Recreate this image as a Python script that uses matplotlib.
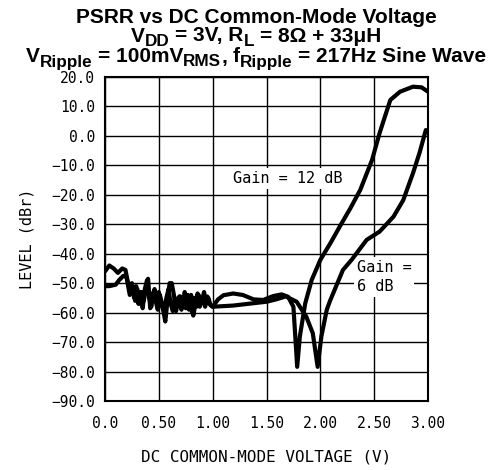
import matplotlib
matplotlib.use("Agg")
import matplotlib.pyplot as plt

# Gain = 12 dB curve
x12 = [0.00, 0.04, 0.08, 0.12, 0.16, 0.19, 0.22, 0.25, 0.27, 0.29, 0.31, 0.33, 0.35, 0.37,
       0.39, 0.41, 0.43, 0.45, 0.47, 0.49, 0.51, 0.53, 0.55, 0.57, 0.59, 0.61, 0.63, 0.65,
       0.67, 0.69, 0.71, 0.73, 0.75, 0.77, 0.79, 0.81, 0.83, 0.85, 0.87, 0.89, 0.91, 0.93,
       0.95, 0.97, 1.00, 1.05, 1.10, 1.19, 1.28, 1.38, 1.47, 1.56, 1.64, 1.70, 1.75, 1.785,
       1.81, 1.86, 1.92, 2.00, 2.10, 2.18, 2.28, 2.37, 2.48, 2.55, 2.61, 2.65, 2.74, 2.86,
       2.94, 3.00]
y12 = [-46.0, -44.0, -45.0, -46.5, -45.0, -45.5, -51.0, -50.0, -55.0, -51.0, -57.0, -53.0,
       -58.5, -52.0, -49.0, -55.0, -58.0, -53.0, -56.0, -59.0, -54.0, -57.0, -60.0, -55.0,
       -52.0, -57.0, -59.5, -55.0, -58.0, -54.5, -59.0, -55.0, -58.5, -54.0, -57.5, -60.0,
       -55.0, -58.0, -54.0, -57.0, -55.0, -58.0, -54.5, -57.0, -58.0, -55.5, -54.1, -53.5,
       -54.0, -55.5, -55.7, -54.4, -53.8, -54.6, -58.0, -78.4, -68.0, -56.8, -48.9, -42.1,
       -36.0, -30.8, -24.5, -18.4, -8.2, 0.9, 7.7, 12.2, 15.0, 16.7, 16.5, 15.0]

# Gain = 6 dB curve
x6 = [0.00, 0.04, 0.10, 0.13, 0.17, 0.20, 0.23, 0.26, 0.28, 0.30, 0.32, 0.34, 0.36, 0.38,
      0.40, 0.42, 0.44, 0.46, 0.48, 0.50, 0.52, 0.54, 0.56, 0.58, 0.60, 0.62, 0.64, 0.66,
      0.68, 0.70, 0.72, 0.74, 0.76, 0.78, 0.80, 0.82, 0.84, 0.86, 0.88, 0.90, 0.92, 0.94,
      0.96, 0.98, 1.00, 1.19, 1.38, 1.50, 1.59, 1.68, 1.78, 1.87, 1.93, 1.975, 2.01, 2.06,
      2.09, 2.21, 2.29, 2.43, 2.55, 2.68, 2.77, 2.86, 2.92, 2.98]
y6 = [-51.0, -51.0, -50.5, -49.0, -47.5, -48.0, -54.0, -51.0, -56.0, -52.0, -57.0, -53.0,
      -56.0, -52.0, -48.5, -58.5, -55.0, -52.0, -56.0, -53.0, -57.0, -59.0, -63.0, -56.0,
      -50.0, -50.0, -54.0, -59.5, -56.0, -54.5, -58.0, -53.0, -57.0, -59.0, -54.0, -61.0,
      -57.0, -53.5, -58.0, -56.0, -53.0, -57.0, -55.0, -57.5, -58.0, -57.6, -56.8, -56.3,
      -55.5, -54.5, -56.3, -61.4, -67.0, -78.4, -68.0, -59.0, -56.0, -45.5, -42.1, -35.3,
      -32.5, -27.4, -21.8, -12.7, -5.9, 2.0]

xticks = [0.0, 0.5, 1.0, 1.5, 2.0, 2.5, 3.0]
xticklabels = ["0.0", "0.50", "1.00", "1.50", "2.00", "2.50", "3.00"]
yticks = [20, 10, 0, -10, -20, -30, -40, -50, -60, -70, -80, -90]
yticklabels = ["%.1f" % v if v >= 0 else "\u2212%.1f" % abs(v) for v in yticks]

MONO = 'DejaVu Sans Mono'
W, H = 492, 470

fig = plt.figure(figsize=(W/100, H/100), dpi=100)
ax = fig.add_axes([105/W, 1-401/H, (428-105)/W, (401-77)/H])

ax.plot(x12, y12, color='black', lw=3.0, solid_joinstyle='round', solid_capstyle='round', zorder=3)
ax.plot(x6, y6, color='black', lw=3.0, solid_joinstyle='round', solid_capstyle='round', zorder=3)

ax.set_xlim(0, 3)
ax.set_ylim(-90, 20)
ax.set_xticks(xticks)
ax.set_xticklabels(xticklabels, fontfamily=MONO, fontsize=10.5)
ax.set_yticks(yticks)
ax.set_yticklabels(yticklabels, fontfamily=MONO, fontsize=10.5)
ax.grid(True, color='black', lw=1.0)
ax.tick_params(axis='x', length=0, pad=11)
ax.tick_params(axis='y', length=0, pad=7)
for s in ax.spines.values():
    s.set_linewidth(1.5)

ax.set_xlabel("DC COMMON-MODE VOLTAGE (V)", fontfamily=MONO, fontsize=11.5, labelpad=13)
ax.set_ylabel("LEVEL (dBr)", fontfamily=MONO, fontsize=11, labelpad=12)

bbox = dict(facecolor='white', edgecolor='none', pad=2)
ax.text(1.19, -14.5, "Gain = 12 dB", fontfamily=MONO, fontsize=11, va='center', ha='left',
        bbox=bbox, zorder=2)
ax.text(2.34, -48.0, "Gain =\n6 dB", fontfamily=MONO, fontsize=11, va='center', ha='left',
        bbox=bbox, linespacing=1.35, zorder=2)

# ---- title with manual sub-scripts ----
renderer = fig.canvas.get_renderer()
TF = dict(fontfamily='Liberation Sans', fontweight='bold')


def width_px(s, size):
    t = fig.text(0, 0, "|" + s + "|", fontsize=size, **TF)
    w1 = t.get_window_extent(renderer).width
    t.set_text("||")
    w2 = t.get_window_extent(renderer).width
    t.remove()
    return w1 - w2


def rich_line(ybase, segs, xc):
    items = []
    x = 0.0
    for s, size, dy in segs:
        if s is None:
            x += 0.278 * size * 100 / 72
            continue
        w = width_px(s, size)
        items.append((x, s, size, dy))
        x += w
    x0 = xc - x / 2
    for xx, s, size, dy in items:
        fig.text((x0 + xx) / W, 1 - (ybase + dy) / H, s, fontsize=size, ha='left',
                 va='baseline', **TF)


M, S, D = 15, 12.3, 4.0
xc = 256
rich_line(23, [("PSRR vs DC Common-Mode Voltage", M, 0)], xc)
rich_line(41.5, [("V", M, 0), ("DD", S, D), (None, M, 0), ("= 3V, R", M, 0), ("L", S, D),
                 (None, M, 0), ("= 8Ω + 33μH", M, 0)], xc)
rich_line(62.5, [("V", M, 0), ("Ripple", S, D), (None, M, 0), ("= 100mV", M, 0), ("RMS", S, D),
                 (",", M, 0), (None, M, 0), ("f", M, 0), ("Ripple", S, D), (None, M, 0),
                 ("= 217Hz Sine Wave", M, 0)], xc)

fig.savefig("out.png", dpi=100)
